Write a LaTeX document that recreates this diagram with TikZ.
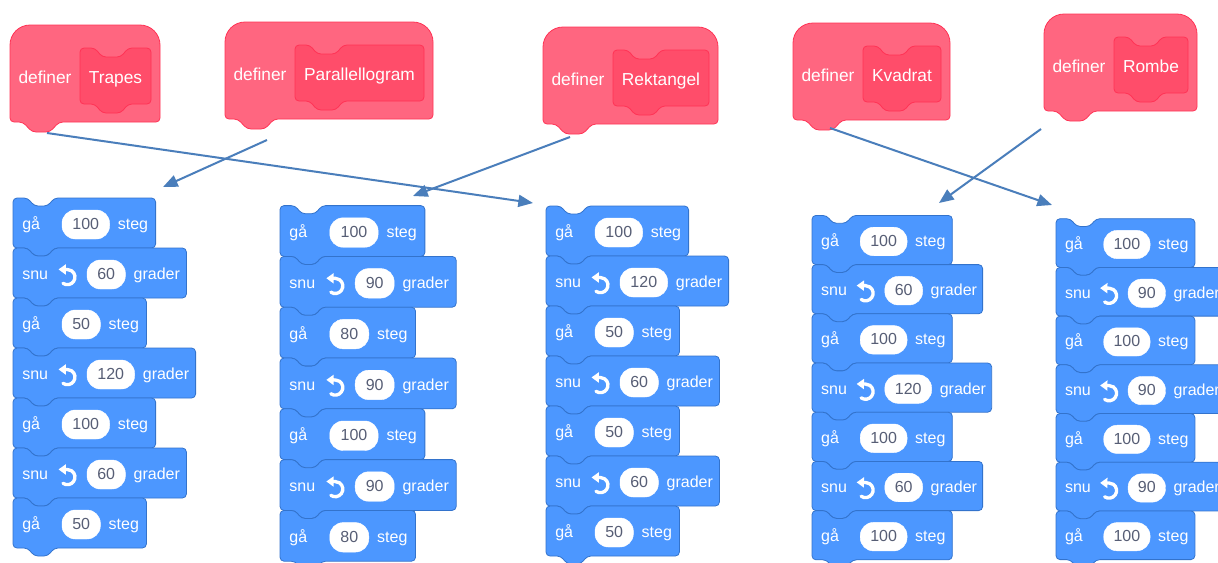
\documentclass[tikz,border=0pt]{standalone}
\usepackage{fontspec}
\setmainfont{Liberation Sans}
\usetikzlibrary{arrows.meta}

\definecolor{motionfill}{HTML}{4C97FF}
\definecolor{motionedge}{HTML}{3373CC}
\definecolor{procfill}{HTML}{FF6680}
\definecolor{procinner}{HTML}{FF4D6A}
\definecolor{procedge}{HTML}{FF3355}
\definecolor{valgray}{HTML}{575E75}
\definecolor{linkblue}{HTML}{4A7EBB}

\tikzset{
  mblock/.style={fill=motionfill, draw=motionedge, line width=0.6pt, rounded corners=3pt},
  pblock/.style={fill=procfill, draw=procedge, line width=0.6pt},
  pinner/.style={fill=procinner, draw=procedge, line width=0.6pt, rounded corners=3pt},
  pill/.style={fill=white, draw=white, line width=0.3pt, rounded corners=10pt},
  mtext/.style={text=white, font=\fontsize{12}{14}\selectfont, inner sep=0pt},
  vtext/.style={text=valgray, font=\fontsize{12}{14}\selectfont, inner sep=0pt},
  ptext/.style={text=white, font=\fontsize{13}{15}\selectfont, inner sep=0pt},
  link/.style={draw=linkblue, line width=1.5pt, -{Triangle[length=11pt,width=9pt]}},
  turnicon/.pic={
    \draw[white, line width=2.5pt, line cap=round, -{Triangle[width=7.5pt,length=5.5pt]}]
      (-3,7.8) arc[start angle=-235, end angle=-450, radius=7.6] -- (-7.5,-6.1);
  }
}

% one stack-block outline: row top, width (notch above, tab below)
\newcommand\blockpath[2]{%
  \draw[mblock] (0,#1) -- (15,#1) -- (21,#1+8) -- (35,#1+8) -- (41,#1) -- (#2,#1)
    -- (#2,#1+50) -- (41,#1+50) -- (35,#1+58) -- (21,#1+58) -- (15,#1+50) -- (0,#1+50) -- cycle;}

% "gå N steg": name, row index, value
\newcommand\gorow[3]{%
  \pgfmathsetmacro\rowtop{50*#2}%
  \pgfmathsetmacro\pillw{#3>99 ? 47.6 : 38.4}%
  \pgfmathsetmacro\blkw{\pillw+95}%
  \blockpath{\rowtop}{\blkw}
  \node[mtext, anchor=base west] (#1-a) at (9,\rowtop+31.5) {gå};
  \draw[pill] (49,\rowtop+12) rectangle (49+\pillw,\rowtop+41);
  \node[vtext, anchor=base] (#1-v) at (49+\pillw/2,\rowtop+31.5) {#3};
  \node[mtext, anchor=base west] (#1-b) at (57+\pillw,\rowtop+31.5) {steg};
}

% "snu (icon) N grader": name, row index, value
\newcommand\turnrow[3]{%
  \pgfmathsetmacro\rowtop{50*#2}%
  \pgfmathsetmacro\pillw{#3>99 ? 47.6 : 38.4}%
  \pgfmathsetmacro\blkw{\pillw+135}%
  \blockpath{\rowtop}{\blkw}
  \node[mtext, anchor=base west] (#1-a) at (9,\rowtop+31.5) {snu};
  \pic at (53,\rowtop+27.5) {turnicon};
  \draw[pill] (74,\rowtop+12) rectangle (74+\pillw,\rowtop+41);
  \node[vtext, anchor=base] (#1-v) at (74+\pillw/2,\rowtop+31.5) {#3};
  \node[mtext, anchor=base west] (#1-b) at (82+\pillw,\rowtop+31.5) {grader};
}

% "definer <name>" hat block: name, left, top, right, label
\newcommand\defblock[5]{%
  \draw[pblock] (#2,#3+40) [rounded corners=15pt] -- (#2,#3) -- (#4,#3) -- (#4,#3+40)
    [rounded corners=3pt] -- (#4,#3+97) -- (#2+49,#3+97) -- (#2+40,#3+107) -- (#2+22,#3+107)
    -- (#2+13,#3+97) -- (#2,#3+97) -- cycle;
  \draw[pinner] (#2+70,#3+23) -- (#2+85,#3+23) -- (#2+92,#3+32) -- (#2+111,#3+32) -- (#2+118,#3+23)
    -- (#4-9,#3+23) -- (#4-9,#3+79) -- (#2+118,#3+79) -- (#2+111,#3+88) -- (#2+92,#3+88)
    -- (#2+85,#3+79) -- (#2+70,#3+79) -- cycle;
  \node[ptext, anchor=base] (#1-kw) at (#2+35,#3+58) {definer};
  \node[ptext, anchor=base] (#1-name) at ({(#2+70+#4-9)/2},#3+58) {#5};
}

\begin{document}
\begin{tikzpicture}[x=0.75pt, y=-0.75pt]
\useasboundingbox (0,0) rectangle (1218,562);
\fill[white] (0,0) rectangle (1218,562);
\clip (0,0) rectangle (1218,562);

% procedure hats
\defblock{trapes}{10}{25}{160}{Trapes}
\defblock{para}{225}{22}{433}{Parallellogram}
\defblock{rekt}{543}{27}{718}{Rektangel}
\defblock{kvad}{793}{23}{950}{Kvadrat}
\defblock{rombe}{1044}{14}{1197}{Rombe}

% stack 1: trapes
\begin{scope}[shift={(13,198)}]
  \gorow{sa1}{0}{100} \turnrow{sa2}{1}{60} \gorow{sa3}{2}{50} \turnrow{sa4}{3}{120}
  \gorow{sa5}{4}{100} \turnrow{sa6}{5}{60} \gorow{sa7}{6}{50}
\end{scope}

% stack 2: parallellogram
\begin{scope}[shift={(280,205.6)}, scale=1.016]
  \gorow{sb1}{0}{100} \turnrow{sb2}{1}{90} \gorow{sb3}{2}{80} \turnrow{sb4}{3}{90}
  \gorow{sb5}{4}{100} \turnrow{sb6}{5}{90} \gorow{sb7}{6}{80}
\end{scope}

% stack 3: rektangel
\begin{scope}[shift={(546,206)}]
  \gorow{sc1}{0}{100} \turnrow{sc2}{1}{120} \gorow{sc3}{2}{50} \turnrow{sc4}{3}{60}
  \gorow{sc5}{4}{50} \turnrow{sc6}{5}{60} \gorow{sc7}{6}{50}
\end{scope}

% stack 4: kvadrat
\begin{scope}[shift={(812,215.4)}, scale=0.984]
  \gorow{sd1}{0}{100} \turnrow{sd2}{1}{60} \gorow{sd3}{2}{100} \turnrow{sd4}{3}{120}
  \gorow{sd5}{4}{100} \turnrow{sd6}{5}{60} \gorow{sd7}{6}{100}
\end{scope}

% stack 5: rombe
\begin{scope}[shift={(1056,218.7)}, scale=0.974]
  \gorow{se1}{0}{100} \turnrow{se2}{1}{90} \gorow{se3}{2}{100} \turnrow{se4}{3}{90}
  \gorow{se5}{4}{100} \turnrow{se6}{5}{90} \gorow{se7}{6}{100}
\end{scope}

% connector ends
\coordinate (trapes-out) at (47,133);
\coordinate (para-out) at (267,140);
\coordinate (rekt-out) at (570,137);
\coordinate (kvad-out) at (830,128);
\coordinate (rombe-out) at (1041,129);
\coordinate (sa-in) at (163,187);
\coordinate (sb-in) at (413,196);
\coordinate (sc-in) at (533,203);
\coordinate (sd-in) at (939,203);
\coordinate (se-in) at (1052,205);

\draw[link] (trapes-out) -- (sc-in);
\draw[link] (para-out) -- (sa-in);
\draw[link] (rekt-out) -- (sb-in);
\draw[link] (kvad-out) -- (se-in);
\draw[link] (rombe-out) -- (sd-in);
\end{tikzpicture}
\end{document}
